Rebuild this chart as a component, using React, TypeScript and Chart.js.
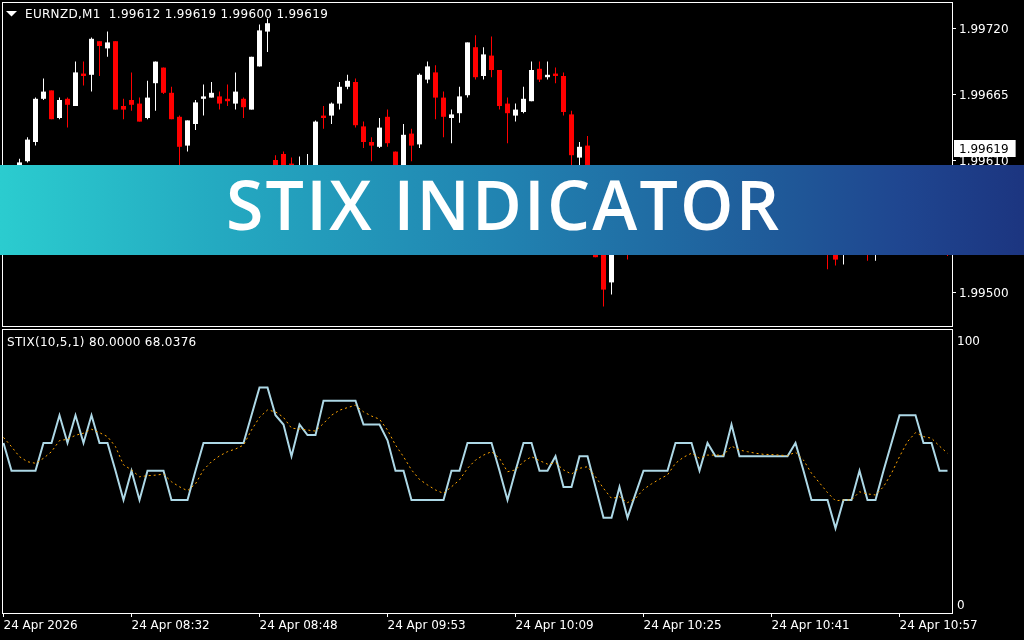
import React, { useEffect, useRef } from "react";
import { Chart, registerables } from "chart.js";

Chart.register(...registerables);

// ---------- texts ----------
const SYMBOL_HEADER = "EURNZD,M1  1.99612 1.99619 1.99600 1.99619";
const INDICATOR_HEADER = "STIX(10,5,1) 80.0000 68.0376";
const BANNER_TITLE = "STIX INDICATOR";
const CURRENT_PRICE = 1.99619;

// ---------- tick labels ----------
const PRICE_TICKS = [1.995, 1.99555, 1.9961, 1.99665, 1.9972];
const OSC_TICKS = [0, 100];
const TIME_TICKS = [0, 16, 32, 48, 64, 80, 96, 112];
const TIME_LABELS = [
  "24 Apr 2026",
  "24 Apr 08:32",
  "24 Apr 08:48",
  "24 Apr 09:53",
  "24 Apr 10:09",
  "24 Apr 10:25",
  "24 Apr 10:41",
  "24 Apr 10:57",
];

// ---------- candles (EURNZD M1) ----------
const OPEN = [
  1.99577, 1.99589, 1.99593, 1.99609, 1.99625, 1.99661, 1.99668, 1.99645, 1.99661, 1.99655,
  1.99682, 1.99681, 1.99709, 1.99703, 1.99709, 1.99655, 1.9966, 1.99657, 1.99645, 1.99674,
  1.99687, 1.99666, 1.99646, 1.99622, 1.9964, 1.99661, 1.99662, 1.99663, 1.99661, 1.99657,
  1.99661, 1.99652, 1.99688, 1.99717, 1.9961, 1.99615, 1.99607, 1.99595, 1.996, 1.99597,
  1.99647, 1.99647, 1.99657, 1.99671, 1.99675, 1.99638, 1.99625, 1.99621, 1.99646, 1.99617,
  1.99595, 1.99632, 1.99623, 1.99677, 1.99683, 1.99662, 1.99645, 1.99649, 1.99664, 1.99704,
  1.9968, 1.99697, 1.99685, 1.99657, 1.99647, 1.9965, 1.99659, 1.99686, 1.99679, 1.99682,
  1.9968, 1.99648, 1.99612, 1.99622, 1.99585, 1.99543, 1.99508, 1.99535, 1.99553, 1.9954,
  1.99555, 1.99572, 1.99566, 1.99576, 1.99587, 1.99592, 1.99584, 1.9959, 1.99575, 1.99585,
  1.99578, 1.99582, 1.99594, 1.99585, 1.99581, 1.99586, 1.99582, 1.99587, 1.99583, 1.99588,
  1.99592, 1.99572, 1.99553, 1.99545, 1.99539, 1.99535, 1.99547, 1.9954, 1.99555, 1.99537,
  1.99543, 1.99558, 1.99577, 1.99589, 1.99585, 1.99592, 1.99572, 1.99564, 1.99548,
];
const HIGH = [
  1.99593, 1.99603, 1.99611, 1.99629, 1.99662, 1.99678, 1.99668, 1.99662, 1.99662, 1.99692,
  1.99692, 1.99712, 1.99709, 1.99717, 1.99709, 1.99661, 1.99683, 1.99662, 1.99676, 1.99692,
  1.99687, 1.99671, 1.99647, 1.99643, 1.9966, 1.99673, 1.99675, 1.99667, 1.99673, 1.99683,
  1.99662, 1.99696, 1.99723, 1.99728, 1.99614, 1.99617, 1.99612, 1.99613, 1.99615, 1.99643,
  1.99655, 1.99658, 1.99675, 1.99681, 1.99678, 1.99642, 1.99629, 1.99645, 1.99652, 1.99617,
  1.9964, 1.99636, 1.99682, 1.99692, 1.99689, 1.99667, 1.99652, 1.99671, 1.99708, 1.99714,
  1.99704, 1.99713, 1.99685, 1.99662, 1.99657, 1.99671, 1.99692, 1.99692, 1.99692, 1.99687,
  1.99683, 1.99651, 1.99625, 1.9963, 1.99589, 1.99552, 1.99545, 1.99564, 1.9956, 1.99562,
  1.99578, 1.9958, 1.99583, 1.99592, 1.99598, 1.99597, 1.99596, 1.99594, 1.99588, 1.9959,
  1.99588, 1.996, 1.99598, 1.99589, 1.99591, 1.9959, 1.99592, 1.9959, 1.99593, 1.99597,
  1.99595, 1.99577, 1.99558, 1.9955, 1.99545, 1.99553, 1.99552, 1.99562, 1.99558, 1.9955,
  1.99563, 1.99581, 1.99595, 1.99597, 1.99597, 1.99594, 1.99577, 1.99568, 1.99552,
];
const LOW = [
  1.99572, 1.99585, 1.99589, 1.99608, 1.99622, 1.9966, 1.99644, 1.99644, 1.99637, 1.99655,
  1.99672, 1.99667, 1.9968, 1.99696, 1.99652, 1.99644, 1.99651, 1.99642, 1.99644, 1.99651,
  1.99665, 1.99644, 1.99602, 1.99617, 1.99635, 1.99647, 1.99662, 1.99652, 1.99655, 1.99652,
  1.99645, 1.99652, 1.99688, 1.997, 1.99597, 1.99593, 1.99597, 1.99592, 1.99597, 1.99595,
  1.99636, 1.9964, 1.99652, 1.99669, 1.99637, 1.9962, 1.99609, 1.9962, 1.99621, 1.99589,
  1.99592, 1.99609, 1.9962, 1.99674, 1.99644, 1.99629, 1.99624, 1.99641, 1.99662, 1.99677,
  1.99677, 1.99679, 1.99652, 1.99624, 1.99642, 1.99649, 1.99659, 1.99675, 1.99677, 1.99674,
  1.99647, 1.996, 1.99602, 1.99585, 1.99529, 1.99488, 1.99498, 1.99533, 1.99527, 1.99535,
  1.9955, 1.99558, 1.99562, 1.99572, 1.99582, 1.99578, 1.9958, 1.9957, 1.99568, 1.99573,
  1.99575, 1.9958, 1.99581, 1.99577, 1.99578, 1.99576, 1.99578, 1.99578, 1.99579, 1.99586,
  1.99567, 1.99547, 1.99537, 1.99519, 1.99522, 1.99523, 1.99535, 1.99537, 1.99526, 1.99526,
  1.9954, 1.99555, 1.99573, 1.9958, 1.99583, 1.99568, 1.99558, 1.99543, 1.9953,
];
const CLOSE = [
  1.99589, 1.996, 1.99608, 1.99627, 1.99661, 1.99667, 1.99644, 1.9966, 1.99656, 1.99683,
  1.9968, 1.99711, 1.99705, 1.99708, 1.99652, 1.99652, 1.99656, 1.99642, 1.99662, 1.99692,
  1.99666, 1.99644, 1.99621, 1.99643, 1.99658, 1.99663, 1.99666, 1.99657, 1.99659, 1.99667,
  1.99654, 1.99696, 1.99718, 1.99724, 1.996, 1.99597, 1.99602, 1.99603, 1.99605, 1.99642,
  1.99645, 1.99657, 1.99671, 1.99676, 1.99639, 1.99625, 1.99622, 1.99637, 1.99624, 1.99593,
  1.99631, 1.99622, 1.99681, 1.99688, 1.99662, 1.99646, 1.99648, 1.99663, 1.99708, 1.99679,
  1.99698, 1.99685, 1.99655, 1.99649, 1.99652, 1.99661, 1.99685, 1.99677, 1.99681, 1.9968,
  1.9965, 1.99614, 1.99621, 1.99589, 1.99529, 1.99502, 1.99539, 1.99556, 1.99539, 1.99555,
  1.99573, 1.99565, 1.99577, 1.99587, 1.99593, 1.99583, 1.99591, 1.99574, 1.99585, 1.99578,
  1.99583, 1.99595, 1.99585, 1.99581, 1.99586, 1.99582, 1.99587, 1.99583, 1.99588, 1.99593,
  1.99572, 1.99553, 1.99543, 1.99535, 1.99527, 1.99548, 1.9954, 1.99556, 1.99537, 1.99543,
  1.99558, 1.99577, 1.9959, 1.99585, 1.99592, 1.99572, 1.99564, 1.99548, 1.99535,
];

// ---------- STIX oscillator ----------
const STIX = [
  61, 50.5, 50.5, 50.5, 50.5, 61, 61, 71.5, 61, 71.5,
  61, 71.5, 61, 61, 50.5, 39.4, 50.5, 39.4, 50.5, 50.5,
  50.5, 39.4, 39.4, 39.4, 50.5, 61, 61, 61, 61, 61,
  61, 71.5, 82, 82, 71.5, 68, 56, 68, 64, 64,
  77, 77, 77, 77, 77, 68, 68, 68, 62, 50.5,
  50.5, 39.4, 39.4, 39.4, 39.4, 39.4, 50.5, 50.5, 61, 61,
  61, 61, 50.5, 39.4, 50.5, 61, 61, 50.5, 50.5, 56,
  44.3, 44.3, 56, 56, 44.3, 32.7, 32.7, 44.3, 32.7, 41.7,
  50.5, 50.5, 50.5, 50.5, 61, 61, 61, 50.5, 61, 56,
  56, 68, 56, 56, 56, 56, 56, 56, 56, 61,
  50.5, 39.4, 39.4, 39.4, 28.7, 39.4, 39.4, 50.5, 39.4, 39.4,
  50.5, 61, 71.5, 71.5, 71.5, 61, 61, 50.5, 50.5,
];
const SIGNAL = [
  63.1, 59.6, 55.8, 53.9, 53.3, 55.2, 57.7, 61.9, 62.4, 63.9,
  64.7, 66.2, 64.9, 63.4, 59.6, 52.7, 50.8, 48.2, 48.6, 48.8,
  49.2, 46.3, 44.4, 42.9, 45.5, 50.8, 53.9, 56.1, 57.7, 58.7,
  60.2, 65.9, 70.7, 73.5, 72.8, 70.7, 66.6, 66.3, 65.9, 65.5,
  68.4, 71.5, 73.4, 74.4, 75.3, 72.8, 71.2, 70.0, 65.9, 60.2,
  55.8, 50.8, 47.2, 45.1, 43.2, 41.9, 44.4, 47.0, 51.4, 54.5,
  56.4, 57.7, 55.2, 50.1, 50.8, 53.9, 55.8, 54.3, 53.0, 53.5,
  50.8, 49.2, 51.4, 52.0, 48.2, 43.8, 40.0, 40.6, 38.4, 40.0,
  43.4, 45.5, 47.3, 48.9, 53.3, 55.6, 57.1, 55.2, 56.4, 56.4,
  56.4, 59.8, 58.3, 57.7, 57.1, 56.7, 56.6, 56.4, 56.2, 57.5,
  54.5, 49.5, 45.9, 42.2, 39.1, 39.4, 39.4, 42.5, 41.7, 41.3,
  44.4, 49.5, 55.8, 61.5, 64.9, 63.4, 62.8, 59.8, 57.1,
];

// ---------- view ranges / style ----------
const FONT_FAMILY = "'DejaVu Sans', 'Liberation Sans', sans-serif";
const X_MIN = -0.1875;
const X_MAX = 118.5625;
const PRICE_MIN = 1.9947166667;
const PRICE_MAX = 1.9974166667;
const OSC_MIN = -3.409;
const OSC_MAX = 104.167;
const AXIS_W = 72;

const noPad = (s: any) => {
  s.paddingTop = 0;
  s.paddingBottom = 0;
  s.paddingLeft = 0;
  s.paddingRight = 0;
};

const framePlugin = {
  id: "frame",
  afterDraw(chart: any) {
    const { ctx, chartArea: a } = chart;
    ctx.save();
    ctx.strokeStyle = "#ffffff";
    ctx.lineWidth = 1;
    ctx.strokeRect(a.left + 0.5, a.top + 0.5, a.right - a.left, a.bottom - a.top);
    ctx.restore();
  },
};

const topOverlay = {
  id: "topOverlay",
  afterDraw(chart: any) {
    const { ctx } = chart;
    ctx.save();
    // triangle
    ctx.fillStyle = "#ffffff";
    ctx.beginPath();
    ctx.moveTo(6, 11);
    ctx.lineTo(17, 11);
    ctx.lineTo(11.5, 16.5);
    ctx.closePath();
    ctx.fill();
    // header
    ctx.font = `12px ${FONT_FAMILY}`;
    ctx.textBaseline = "middle";
    ctx.textAlign = "left";
    ctx.fillStyle = "#ffffff";
    (ctx as any).letterSpacing = "0.3px";
    ctx.fillText(SYMBOL_HEADER, 25, 15);
    (ctx as any).letterSpacing = "0px";
    // current price box
    const y = Math.round(chart.scales.y.getPixelForValue(CURRENT_PRICE));
    const label = CURRENT_PRICE.toFixed(5);
    const w = ctx.measureText(label).width;
    ctx.fillStyle = "#ffffff";
    ctx.fillRect(954, y - 9, w + 12, 17);
    ctx.fillStyle = "#000000";
    ctx.fillText(label, 959, y + 1);
    ctx.restore();
  },
};

const bottomOverlay = {
  id: "bottomOverlay",
  afterDraw(chart: any) {
    const { ctx } = chart;
    ctx.save();
    ctx.font = `12px ${FONT_FAMILY}`;
    ctx.textBaseline = "middle";
    ctx.textAlign = "left";
    ctx.fillStyle = "#ffffff";
    (ctx as any).letterSpacing = "0.3px";
    ctx.fillText(INDICATOR_HEADER, 7, 14);
    ctx.restore();
  },
};

export default function App() {
  const topRef = useRef<HTMLCanvasElement>(null);
  const botRef = useRef<HTMLCanvasElement>(null);

  useEffect(() => {
    if (!topRef.current || !botRef.current) return;
    const colors = OPEN.map((o, i) => (CLOSE[i] >= o ? "#ffffff" : "#ff0000"));
    const bodies = OPEN.map((o, i) => ({ x: i, y: [o, CLOSE[i]] }));
    const wicks = LOW.map((l, i) => ({ x: i, y: [l, HIGH[i]] }));

    const topChart = new Chart(topRef.current, {
      type: "bar",
      data: {
        datasets: [
          {
            label: "body",
            data: bodies as any,
            backgroundColor: colors,
            borderWidth: 0,
            barThickness: 5,
            minBarLength: 1,
            grouped: false,
            borderSkipped: false,
            inflateAmount: 0,
          } as any,
          {
            label: "wick",
            data: wicks as any,
            backgroundColor: colors,
            borderWidth: 0,
            barThickness: 1,
            minBarLength: 1,
            grouped: false,
            borderSkipped: false,
            inflateAmount: 0,
          } as any,
        ],
      },
      options: {
        responsive: false,
        animation: false,
        events: [],
        layout: { padding: { left: 2, top: 2, right: 0, bottom: 3 } },
        plugins: { legend: { display: false }, tooltip: { enabled: false } },
        scales: {
          x: { type: "linear", min: X_MIN, max: X_MAX, display: false, offset: false },
          y: {
            type: "linear",
            position: "right",
            min: PRICE_MIN,
            max: PRICE_MAX,
            afterBuildTicks: (s: any) => {
              s.ticks = PRICE_TICKS.map((v) => ({ value: v }));
            },
            afterFit: (s: any) => {
              s.width = AXIS_W;
              noPad(s);
            },
            ticks: {
              color: "#ffffff",
              font: { family: FONT_FAMILY, size: 12 },
              padding: 3,
              labelOffset: 1.5,
              callback: (v: any) => Number(v).toFixed(5),
            },
            grid: { drawOnChartArea: false, drawTicks: true, tickLength: 4, color: "#ffffff" },
            border: { display: false },
          },
        },
      } as any,
      plugins: [framePlugin, topOverlay],
    });

    const botChart = new Chart(botRef.current, {
      type: "line",
      data: {
        datasets: [
          {
            label: "Signal",
            data: SIGNAL.map((v, i) => ({ x: i, y: v })),
            borderColor: "#FFA500",
            borderWidth: 1,
            borderDash: [2, 3],
            pointRadius: 0,
            tension: 0,
            fill: false,
          },
          {
            label: "STIX",
            data: STIX.map((v, i) => ({ x: i, y: v })),
            borderColor: "#ADD8E6",
            borderWidth: 2,
            pointRadius: 0,
            tension: 0,
            fill: false,
          },
        ],
      },
      options: {
        responsive: false,
        animation: false,
        events: [],
        layout: { padding: { left: 2, top: 0, right: 0, bottom: 0 } },
        plugins: { legend: { display: false }, tooltip: { enabled: false } },
        scales: {
          x: {
            type: "linear",
            min: X_MIN,
            max: X_MAX,
            offset: false,
            afterBuildTicks: (s: any) => {
              s.ticks = TIME_TICKS.map((v) => ({ value: v }));
            },
            afterFit: (s: any) => {
              s.height = 27;
              noPad(s);
            },
            ticks: {
              color: "#ffffff",
              font: { family: FONT_FAMILY, size: 12 },
              align: "start",
              maxRotation: 0,
              minRotation: 0,
              autoSkip: false,
              padding: 2,
              callback: (v: any) => {
                const j = TIME_TICKS.indexOf(Number(v));
                return j >= 0 ? TIME_LABELS[j] : "";
              },
            },
            grid: { drawOnChartArea: false, drawTicks: true, tickLength: 4, color: "#ffffff", offset: false },
            border: { display: false },
          },
          y: {
            type: "linear",
            position: "right",
            min: OSC_MIN,
            max: OSC_MAX,
            afterBuildTicks: (s: any) => {
              s.ticks = OSC_TICKS.map((v) => ({ value: v }));
            },
            afterFit: (s: any) => {
              s.width = AXIS_W;
              noPad(s);
            },
            ticks: {
              color: "#ffffff",
              font: { family: FONT_FAMILY, size: 12 },
              padding: 5,
              labelOffset: 2,
              callback: (v: any) => String(v),
            },
            grid: { drawOnChartArea: false, drawTicks: false },
            border: { display: false },
          },
        },
      } as any,
      plugins: [framePlugin, bottomOverlay],
    });

    return () => {
      topChart.destroy();
      botChart.destroy();
    };
  }, []);

  return (
    <div
      style={{
        position: "fixed",
        left: 0,
        top: 0,
        width: 1024,
        height: 640,
        background: "#000000",
        overflow: "hidden",
      }}
    >
      <canvas
        ref={topRef}
        width={1024}
        height={329}
        style={{ position: "absolute", left: 0, top: 0, width: 1024, height: 329 }}
      />
      <canvas
        ref={botRef}
        width={1024}
        height={311}
        style={{ position: "absolute", left: 0, top: 329, width: 1024, height: 311 }}
      />
      <div
        style={{
          position: "absolute",
          left: 0,
          top: 165,
          width: 1024,
          height: 90,
          background:
            "linear-gradient(90deg, #2bcccf 0%, #24aac1 21%, #2183b1 49%, #1f5898 77%, #1f4690 88%, #1c3580 100%)",
        }}
      >
        <div
          style={{
            position: "absolute",
            left: 226,
            top: 5,
            fontFamily: "'Open Sans', sans-serif",
            fontWeight: 650,
            fontSize: 68,
            lineHeight: "68px",
            letterSpacing: 2.2,
            color: "#ffffff",
            whiteSpace: "nowrap",
          }}
        >
          {BANNER_TITLE}
        </div>
      </div>
    </div>
  );
}
